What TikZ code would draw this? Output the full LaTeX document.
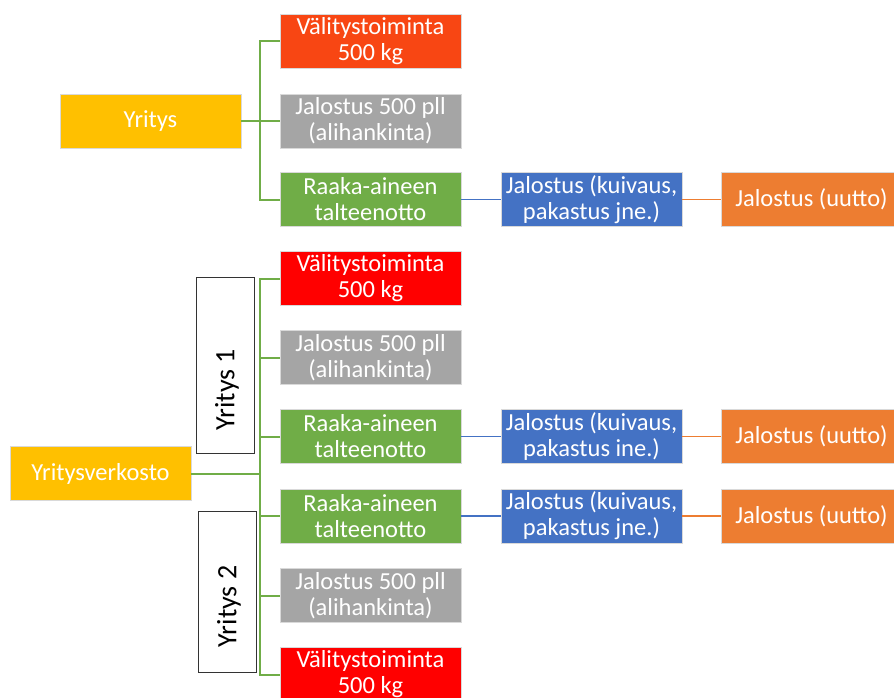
\documentclass[tikz,border=0pt]{standalone}
\usepackage{fontspec}
\setmainfont{Carlito}
\definecolor{cyellow}{HTML}{FFC000}
\definecolor{cfire}{HTML}{F84613}
\definecolor{cred}{HTML}{FF0000}
\definecolor{cgray}{HTML}{A5A5A5}
\definecolor{cgreen}{HTML}{70AD47}
\definecolor{cblue}{HTML}{4472C4}
\definecolor{corange}{HTML}{ED7D31}
\begin{document}
\begin{tikzpicture}[x=1pt,y=-1pt,
  box/.style={rectangle, minimum width=181pt, minimum height=54pt, inner sep=0pt,
    align=center, text=white, font=\fontsize{24.5}{26}\selectfont,
    draw=white!85!black, line width=0.5pt},
  tagbox/.style={rectangle, draw=black!80, line width=1pt, inner sep=0pt,
    minimum width=58pt},
  tagtext/.style={inner sep=0pt, rotate=90, font=\fontsize{28}{30}\selectfont},
  gline/.style={draw=cgreen, line width=2pt},
  bline/.style={draw=cblue, line width=1.6pt},
  oline/.style={draw=corange, line width=1.6pt}]
\useasboundingbox (0,0) rectangle (894,698);
\clip (0,0) rectangle (894,698);

% single company
\node[box, fill=cyellow] (ty) at (150.5,121) {Yritys};
\node[box, fill=cfire] (tv) at (370.5,41.5) {Välitystoiminta\\500 kg};
\node[box, fill=cgray] (tj) at (370.5,121) {Jalostus 500 pll\\(alihankinta)};
\node[box, fill=cgreen] (tr) at (370.5,199.5) {Raaka-aineen\\talteenotto};
\node[box, fill=cblue] (tb) at (591.5,199.5) {Jalostus (kuivaus,\\pakastus jne.)};
\node[box, fill=corange] (tu) at (811.5,199.5) {Jalostus (uutto)};

\draw[gline] (tv.west) -- ++(-20,0) |- (tr.west);
\draw[gline] (ty.east) -- (tj.west);
\draw[bline] (tr.east) -- (tb.west);
\draw[oline] (tb.east) -- (tu.west);

% company network
\node[box, fill=cyellow] (yv) at (100.5,473.5) {Yritysverkosto};
\node[tagbox, minimum height=176pt] (y1) at (225,365) {};
\node[tagtext] (y1t) at ([xshift=2pt,yshift=-25pt]y1.center) {Yritys 1};
\node[tagbox, minimum height=161pt] (y2) at (227,591.5) {};
\node[tagtext] (y2t) at ([xshift=2pt,yshift=-15pt]y2.center) {Yritys 2};

\node[box, fill=cred] (bv1) at (370.5,278.5) {Välitystoiminta\\500 kg};
\node[box, fill=cgray] (bj1) at (370.5,357.5) {Jalostus 500 pll\\(alihankinta)};
\node[box, fill=cgreen] (br1) at (370.5,436.5) {Raaka-aineen\\talteenotto};
\node[box, fill=cgreen] (br2) at (370.5,516) {Raaka-aineen\\talteenotto};
\node[box, fill=cgray] (bj2) at (370.5,595.5) {Jalostus 500 pll\\(alihankinta)};
\node[box, fill=cred] (bv2) at (370.5,674.5) {Välitystoiminta\\500 kg};

\node[box, fill=cblue] (bb1) at (591.5,436.5) {Jalostus (kuivaus,\\pakastus ine.)};
\node[box, fill=cblue] (bb2) at (591.5,516) {Jalostus (kuivaus,\\pakastus jne.)};
\node[box, fill=corange] (bu1) at (811.5,436.5) {Jalostus (uutto)};
\node[box, fill=corange] (bu2) at (811.5,516) {Jalostus (uutto)};

\coordinate (bus) at (260,473.5);
\draw[gline] (bv1.west) -- ++(-20,0) |- (bv2.west);
\draw[gline] (bj1.west) -- ++(-20,0);
\draw[gline] (br1.west) -- ++(-20,0);
\draw[gline] (br2.west) -- ++(-20,0);
\draw[gline] (bj2.west) -- ++(-20,0);
\draw[gline] (yv.east) -- (bus);

\draw[bline] (br1.east) -- (bb1.west);
\draw[bline] (br2.east) -- (bb2.west);
\draw[oline] (bb1.east) -- (bu1.west);
\draw[oline] (bb2.east) -- (bu2.west);
\end{tikzpicture}
\end{document}
